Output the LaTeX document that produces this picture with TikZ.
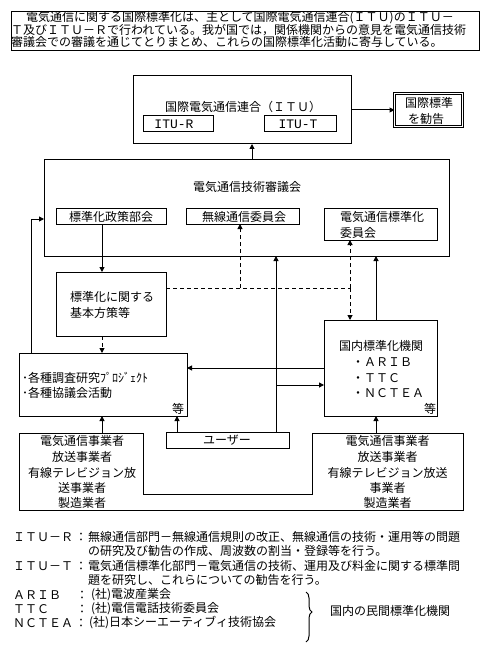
\documentclass[tikz,border=0pt]{standalone}
\usepackage{fontspec}
\setmainfont{Noto Sans CJK JP}
\newfontfamily\latinmono{Liberation Mono}
\usetikzlibrary{arrows.meta,decorations.pathreplacing}
\begin{document}
\begin{tikzpicture}[x=1pt,y=-1pt,
  every node/.style={inner sep=0pt,outer sep=0pt,font=\fontsize{12}{14}\selectfont},
  box/.style={draw,line width=1pt},
  ghost/.style={},
  ln/.style={line width=1pt},
  arr/.style={line width=1pt,-{Triangle[length=5pt,width=5pt]}},
  dsh/.style={dash pattern=on 4pt off 3pt},
  mono/.style={font=\latinmono\fontsize{13}{14}\selectfont}]
\useasboundingbox[fill=white] (0,0) rectangle (491,655);

% top explanatory box
\node[box,minimum width=468pt,minimum height=39pt] (top) at (245,31.5) {};
\node[anchor=west] (t1) at (26,18) {電気通信に関する国際標準化は、主として国際電気通信連合(ＩＴＵ)のＩＴＵ－};
\node[anchor=west] (t2) at (11,30) {Ｔ及びＩＴＵ－Ｒで行われている。我が国では，関係機関からの意見を電気通信技術};
\node[anchor=west] (t3) at (11,42) {審議会での審議を通じてとりまとめ、これらの国際標準化活動に寄与している。};

% ITU
\node[box,minimum width=218pt,minimum height=68pt] (itu) at (242,110) {};
\node (itut) at (243,107) {国際電気通信連合（ＩＴＵ）};
\node[box,minimum width=70pt,minimum height=16pt] (itur) at (178,124) {};
\node[mono] (iturt) at (174,124) {ITU-R};
\node[box,minimum width=72pt,minimum height=16pt] (itutb) at (300,124) {};
\node[mono] (ituttx) at (298,124) {ITU-T};

\node[draw,line width=0.9pt,double,double distance=1.4pt,minimum width=68pt,minimum height=33pt] (kokusai) at (428.5,110) {};
\node[anchor=west] (k1) at (405,103) {国際標準};
\node[anchor=west] (k2) at (408,119) {を勧告};

% council
\node[box,minimum width=405pt,minimum height=96pt] (council) at (246.5,208) {};
\node (councilt) at (247,186.5) {電気通信技術審議会};
\node[box,minimum width=110pt,minimum height=16pt] (seisaku) at (111,216) {};
\node (seisakut) at (111,217) {標準化政策部会};
\node[box,minimum width=113pt,minimum height=16pt] (musen) at (242.5,216) {};
\node (musent) at (244,217) {無線通信委員会};
\node[box,minimum width=113pt,minimum height=32pt] (denstd) at (380.5,224) {};
\node[anchor=west] (denstd1) at (340,217) {電気通信標準化};
\node[anchor=west] (denstd2) at (340,233) {委員会};

% kihon
\node[box,minimum width=110pt,minimum height=64pt] (kihon) at (111,304) {};
\node[anchor=west] (kihon1) at (70,297) {標準化に関する};
\node[anchor=west] (kihon2) at (70,313) {基本方策等};

% kakushu
\node[box,minimum width=168pt,minimum height=63pt] (kakushu) at (103,384.5) {};
\node[anchor=west] (kak1) at (22,378) {･各種調査研究ﾌﾟﾛｼﾞｪｸﾄ};
\node[anchor=west] (kak2) at (22,393) {･各種協議会活動};
\node (kak3) at (178,409) {等};

% kokunai
\node[box,minimum width=113pt,minimum height=96pt] (kokunai) at (380.5,368) {};
\node (kok0) at (381,346) {国内標準化機関};
\node[anchor=west] (kok1) at (352,362) {・ＡＲＩＢ};
\node[anchor=west] (kok2) at (352,378) {・ＴＴＣ};
\node[anchor=west] (kok3) at (352,393) {・ＮＣＴＥＡ};
\node (kok4) at (430,409) {等};

% user
\node[box,minimum width=123pt,minimum height=16pt] (user) at (227.5,440) {};
\node (usert) at (227,440) {ユーザー};

% bottom operators (joined outline)
\node[ghost,minimum width=124pt,minimum height=77pt] (botL) at (81,471.5) {};
\node[ghost,minimum width=151pt,minimum height=77pt] (botR) at (387.5,471.5) {};
\draw[ln] (botL.north west) -- (botL.north east) -- (botL.east |- 0,494) -- (botR.west |- 0,494)
  -- (botR.north west) -- (botR.north east) -- (botR.south east) -- (botL.south west) -- cycle;
\node (bl1) at (82,441) {電気通信事業者};
\node (bl2) at (82,457) {放送事業者};
\node (bl3) at (82,473) {有線テレビジョン放};
\node (bl4) at (82,488) {送事業者};
\node (bl5) at (82,503) {製造業者};
\node (br1) at (387.5,441) {電気通信事業者};
\node (br2) at (387.5,457) {放送事業者};
\node (br3) at (387.5,473) {有線テレビジョン放送};
\node (br4) at (387.5,488) {事業者};
\node (br5) at (387.5,503) {製造業者};

% connectors
\coordinate (dj) at (350,288);
\coordinate (dm) at (240,288);
\coordinate (uj) at (276,385);
\draw[arr] (itu.east) -- (kokusai.west);
\draw[arr] (council.north -| 252,0) -- (itu.south -| 252,0);
\draw[arr] (kakushu.north -| 31,0) |- (council.west |- 0,219);
\draw[arr] (seisaku.south -| 102,0) -- (kihon.north -| 102,0);
\draw[arr,dsh] (kihon.south -| 102,0) -- (kakushu.north -| 102,0);
\draw[ln,dsh] (kihon.east |- dj) -- (dj);
\draw[arr,dsh] (dm) -- (musen.south -| dm);
\draw[arr,dsh] (dj) -- (denstd.south -| dj);
\draw[arr,dsh] (dj) -- (kokunai.north -| dj);
\draw[arr] (user.north -| uj) -- (council.south -| uj);
\draw[arr] (uj) -- (kokunai.west |- uj);
\draw[arr] (kokunai.north -| 376,0) -- (council.south -| 376,0);
\draw[arr] (kokunai.west |- 0,368) -- (kakushu.east |- 0,368);
\draw[arr] (botL.north -| 102,0) -- (kakushu.south -| 102,0);
\draw[arr] (user.north -| 177,0) -- (kakushu.south -| 177,0);
\draw[arr] (botR.north -| 376,0) -- (kokunai.south -| 376,0);

% footnotes
\node[anchor=west] (fr) at (13,537) {ＩＴＵ－Ｒ};
\node (frc) at (81,537) {：};
\node[anchor=west] (fr1) at (88,537) {無線通信部門－無線通信規則の改正、無線通信の技術・運用等の問題};
\node[anchor=west] (fr2) at (88,551) {の研究及び勧告の作成、周波数の割当・登録等を行う。};
\node[anchor=west] (ft) at (13,566) {ＩＴＵ－Ｔ};
\node (ftc) at (81,566) {：};
\node[anchor=west] (ft1) at (88,566) {電気通信標準化部門－電気通信の技術、運用及び料金に関する標準問};
\node[anchor=west] (ft2) at (88,580) {題を研究し、これらについての勧告を行う。};
\node[anchor=west] (fa) at (13,595) {ＡＲＩＢ};
\node (fac) at (82,595) {：};
\node[anchor=west] (fa1) at (91,595) {(社)電波産業会};
\node[anchor=west] (fc) at (13,609) {ＴＴＣ};
\node (fcc) at (82,609) {：};
\node[anchor=west] (fc1) at (91,609) {(社)電信電話技術委員会};
\node[anchor=west] (fn) at (13,623) {ＮＣＴＥＡ};
\node (fnc) at (81,623) {：};
\node[anchor=west] (fn1) at (89,623) {(社)日本シーエーティブィ技術協会};
\draw[ln,decorate,decoration={brace,amplitude=6pt,aspect=0.4}] (306,592) -- (306,642);
\node[anchor=west] (minkan) at (330,611) {国内の民間標準化機関};
\end{tikzpicture}
\end{document}
